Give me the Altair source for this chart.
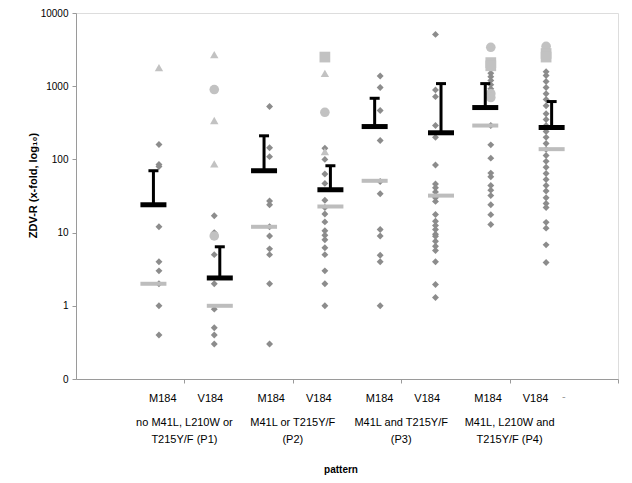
import altair as alt
import pandas as pd

# ---- data ----
columns = ["P1 M184", "P1 V184", "P2 M184", "P2 V184",
           "P3 M184", "P3 V184", "P4 M184", "P4 V184"]
sub_labels = ["M184", "V184", "M184", "V184", "M184", "V184", "M184", "V184"]
group_labels = ["no M41L, L210W or\nT215Y/F (P1)", "M41L or T215Y/F\n(P2)",
                "M41L and T215Y/F\n(P3)", "M41L, L210W and\nT215Y/F (P4)"]

diamonds = [
    [160, 85, 80, 12, 4, 3, 2, 1, 0.4],
    [17, 10, 5, 2, 0.9, 0.5, 0.4, 0.3],
    [527, 144, 109, 27, 24, 12, 9, 6, 5, 2, 0.3],
    [142, 100, 63, 47, 27.6, 22, 18, 14, 10.6, 9.2, 8, 6.2, 5, 3, 2, 1],
    [1380, 960, 465, 181, 50, 34, 11, 9, 4.9, 4, 1],
    [5100, 890, 720, 290, 200, 84, 46, 41, 36, 30, 26.7, 17.7, 14.3, 12.5,
     11, 9.5, 8.9, 7.6, 6.5, 5.7, 4, 1.95, 1.3],
    [1500, 1350, 1200, 1050, 920, 290, 158, 104, 65, 58, 44, 38, 32, 24,
     17.6, 12.9],
    [1580, 1400, 1160, 960, 790, 660, 540, 420, 350, 290, 240, 200, 165, 137,
     113, 94, 78, 64, 53, 44, 37, 30, 25, 22, 13.8, 11.5, 6.8, 3.9],
]
triangles = [[1800], [2700, 340, 87], [], [1500, 128], [], [], [], []]
circles = [[], [900, 9], [], [440], [], [], [3400, 790, 700], [3500]]
squares = [[], [], [], [2500], [], [], [2100, 1900], [2800, 2500]]

means = [24, 2.4, 70, 38.6, 281, 231, 511, 273]
sd_top = [70, 6.4, 210, 82, 684, 1085, 1085, 617]
medians = [2, 1.0, 12, 22.8, 51, 32, 290, 138]

y_ticks = [0.1, 1, 10, 100, 1000, 10000]
x_ticks = [0.46, 2.42, 4.38, 6.34, 8.30]   # group boundaries on the axis

# ---- tables ----
rows = []
for kind, series in [("diamond", diamonds), ("triangle", triangles),
                     ("circle", circles), ("square", squares)]:
    for i, vals in enumerate(series):
        for v in vals:
            rows.append({"col": i, "v": v, "kind": kind})
pts = pd.DataFrame(rows)

summ = pd.DataFrame({
    "col": list(range(len(columns))),
    "mean": means, "top": sd_top, "median": medians,
    "side": [-1 if s == "M184" else 1 for s in sub_labels],
})

subdf = pd.DataFrame({
    "g": [x_ticks[i // 2] for i in range(8)],
    "side": [0 if s == "M184" else 1 for s in sub_labels],
    "label": sub_labels,
})
grpdf = pd.DataFrame({"g": x_ticks[:4], "label": group_labels})
dashdf = pd.DataFrame({"g": [x_ticks[3]], "label": ["-"]})

xscale = alt.Scale(domain=[-1.5, 8.3], nice=False, zero=False)
yscale = alt.Scale(type="log", domain=[0.1, 10000], nice=False)

X = alt.X("col:Q", scale=xscale,
          axis=alt.Axis(values=x_ticks, labels=False, title=None, grid=False,
                        tickSize=4, domainColor="#9a9a9a", tickColor="#9a9a9a"))
Y = alt.Y("v:Q", scale=yscale,
          axis=alt.Axis(values=y_ticks, grid=False, tickSize=4, labelPadding=4,
                        labelFontSize=10, labelColor="black",
                        labelExpr="datum.value < 0.5 ? '0' : format(datum.value, 'd')",
                        domainColor="#9a9a9a", tickColor="#9a9a9a",
                        title="ZDV-R (x-fold, log₁₀)", titleFontSize=11,
                        titleFontWeight="bold", titleX=-43, titleY=172,
                        titleAngle=270, titleAlign="center",
                        titleBaseline="middle"))

points = alt.Chart(pts).mark_point(filled=True, opacity=1).encode(
    x=X, y=Y,
    shape=alt.Shape("kind:N", legend=None,
                    scale=alt.Scale(domain=["diamond", "triangle", "circle", "square"],
                                    range=["diamond", "triangle-up", "circle", "square"])),
    color=alt.Color("kind:N", legend=None,
                    scale=alt.Scale(domain=["diamond", "triangle", "circle", "square"],
                                    range=["#8c8c8c", "#c2c2c2", "#c2c2c2", "#c2c2c2"])),
    size=alt.Size("kind:N", legend=None,
                  scale=alt.Scale(domain=["diamond", "triangle", "circle", "square"],
                                  range=[48, 115, 75, 64])),
)

base = alt.Chart(summ).transform_calculate(xb="datum.col + datum.side * 0.1")
XB = alt.X("xb:Q", scale=xscale)

median_bar = base.mark_tick(orient="horizontal", size=26, thickness=4,
                            color="#bdbdbd", opacity=1).encode(
    x=XB, y=alt.Y("median:Q", scale=yscale))
err_rule = base.mark_rule(strokeWidth=3, color="black").encode(
    x=XB, y=alt.Y("mean:Q", scale=yscale), y2="top:Q")
err_cap = base.mark_tick(orient="horizontal", size=10, thickness=3,
                         color="black", opacity=1).encode(
    x=XB, y=alt.Y("top:Q", scale=yscale))
mean_bar = base.mark_tick(orient="horizontal", size=26, thickness=5,
                          color="black", opacity=1).encode(
    x=XB, y=alt.Y("mean:Q", scale=yscale))

sub_text = alt.Chart(subdf).transform_calculate(
    xl="datum.g + (datum.side == 0 ? -0.39 : 0.47)"
).mark_text(fontSize=11, color="black", baseline="middle").encode(
    x=alt.X("xl:Q", scale=xscale), y=alt.value(386), text="label:N")

dash_text = alt.Chart(dashdf).transform_calculate(
    xl="datum.g + 0.98"
).mark_text(fontSize=11, color="#999999", baseline="middle").encode(
    x=alt.X("xl:Q", scale=xscale), y=alt.value(384), text="label:N")

grp_text = alt.Chart(grpdf).mark_text(fontSize=11, color="black",
                                      baseline="middle", lineBreak="\n",
                                      lineHeight=17).encode(
    x=alt.X("g:Q", scale=xscale), y=alt.value(410), text="label:N")

title_text = alt.Chart(pd.DataFrame({"t": ["pattern"]})).mark_text(
    fontSize=10, fontWeight="bold", color="black", baseline="alphabetic"
).encode(x=alt.value(265), y=alt.value(460), text="t:N")

chart = alt.layer(points, median_bar, err_rule, err_cap, mean_bar,
                  sub_text, dash_text, grp_text, title_text).properties(
    width=542, height=366,
    padding={"left": 68, "top": 5, "right": 6, "bottom": 96},
    autosize=alt.AutoSizeParams(type="none"),
).configure_view(stroke=None).configure(
    font="Liberation Sans"
).configure_axis(labelFont="Liberation Sans", titleFont="Liberation Sans")

chart.save("out.html", embed_options={"renderer": "svg", "actions": False})
